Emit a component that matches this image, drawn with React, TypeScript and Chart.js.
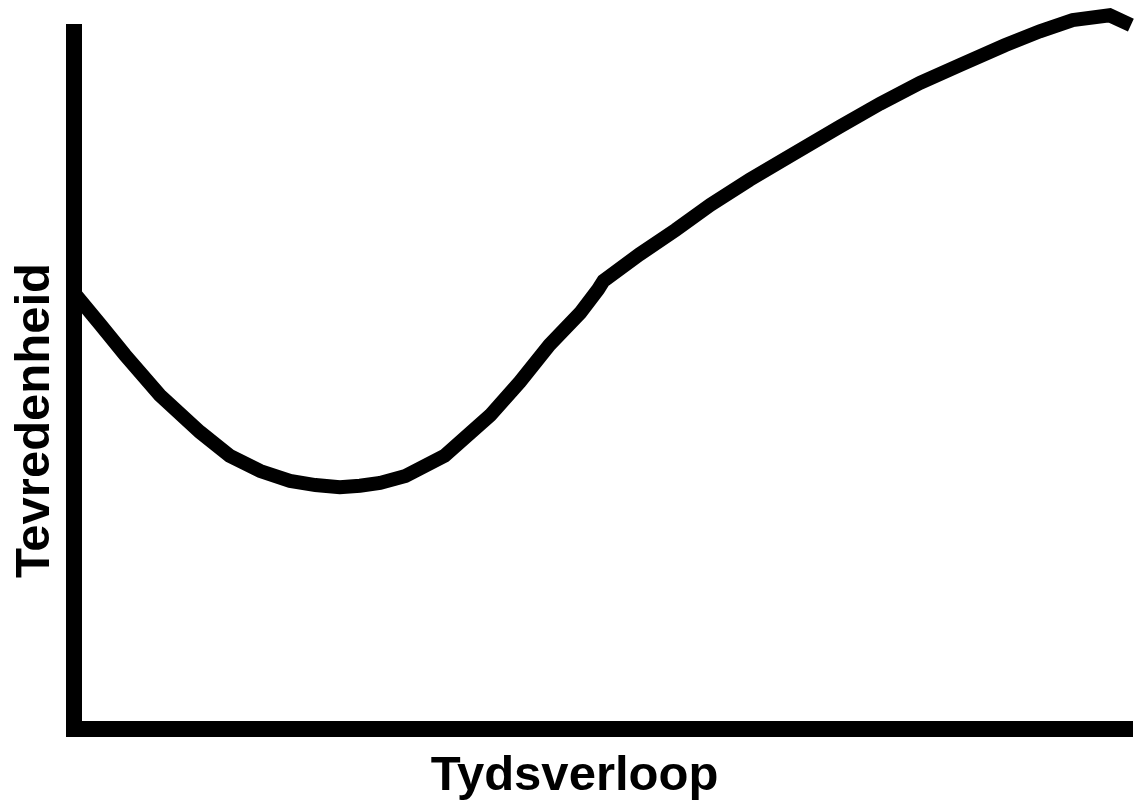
import React, { useEffect, useRef } from "react";
import { Chart, registerables } from "chart.js";

Chart.register(...registerables);

// Time progression (x, 0–100) and satisfaction (y, 0–100)
const timeValues = [
  0, 2.5, 4.8, 8.1, 11.9, 14.7, 17.6, 20.4, 22.8, 25.1, 27.0, 28.9, 31.3, 35.0,
  39.3, 42.1, 44.9, 47.8, 49.5, 50.0, 53.4, 56.8, 60.1, 63.8, 67.6, 72.3, 76.1,
  79.9, 83.7, 87.9, 91.2, 94.3, 97.8, 99.8,
];
const satisfactionValues = [
  62.6, 58.0, 53.7, 47.9, 42.6, 39.2, 37.0, 35.6, 35.0, 34.7, 34.9, 35.3, 36.3,
  39.2, 45.0, 49.8, 55.1, 59.7, 63.1, 64.3, 68.1, 71.6, 75.2, 78.8, 82.2, 86.4,
  89.7, 92.7, 95.3, 98.1, 100.1, 101.7, 102.4, 101.0,
];
const xTitle = "Tydsverloop";
const yTitle = "Tevredenheid";

const titlesPlugin = {
  id: "axisTitles",
  afterDraw(chart: any) {
    const { ctx, chartArea } = chart;
    ctx.save();
    ctx.fillStyle = "#000";
    ctx.font = 'bold 49px "Liberation Sans", Arial, sans-serif';
    ctx.textAlign = "center";
    ctx.textBaseline = "alphabetic";
    // x title under the axis
    ctx.fillText(xTitle, (chartArea.left + chartArea.right) / 2 - 29, chartArea.bottom + 61);
    // y title, rotated, left of the axis
    ctx.translate(chartArea.left - 25, (chartArea.top + chartArea.bottom) / 2 + 40);
    ctx.rotate(-Math.PI / 2);
    ctx.fillText(yTitle, 0, 0);
    ctx.restore();
  },
};

export default function App() {
  const canvasRef = useRef<HTMLCanvasElement | null>(null);

  useEffect(() => {
    if (!canvasRef.current) return;
    const data = timeValues.map((x, i) => ({ x, y: satisfactionValues[i] }));
    const chart = new Chart(canvasRef.current, {
      type: "line",
      data: {
        datasets: [
          {
            data,
            borderColor: "#000",
            borderWidth: 14,
            pointRadius: 0,
            tension: 0,
            fill: false,
            clip: false as any,
          },
        ],
      },
      options: {
        animation: false,
        responsive: false,
        events: [],
        layout: { padding: { left: 74, top: 32, right: 6, bottom: 76 } },
        plugins: { legend: { display: false }, tooltip: { enabled: false } },
        scales: {
          x: {
            type: "linear",
            min: 0,
            max: 100,
            ticks: { display: false },
            grid: { display: false, drawTicks: false, lineWidth: 0 },
            border: { display: true, color: "#000", width: 16 },
          },
          y: {
            type: "linear",
            min: 0,
            max: 100,
            ticks: { display: false },
            grid: { display: false, drawTicks: false, lineWidth: 0 },
            border: { display: true, color: "#000", width: 16 },
          },
        },
      },
      plugins: [titlesPlugin],
    });
    return () => chart.destroy();
  }, []);

  return (
    <div style={{ position: "fixed", left: 0, top: 0, width: 1139, height: 805, background: "#fff" }}>
      <canvas ref={canvasRef} width={1139} height={805} />
    </div>
  );
}
